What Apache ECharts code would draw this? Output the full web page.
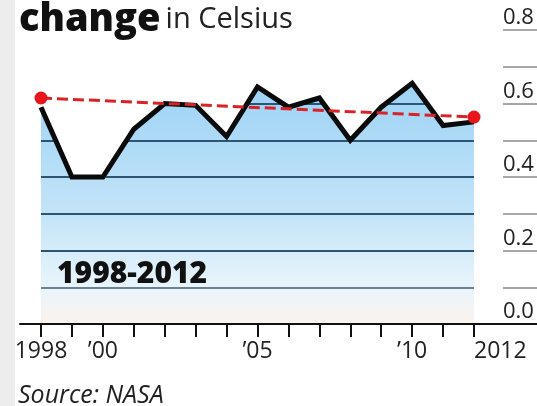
<!DOCTYPE html>
<html>
<head>
<meta charset="utf-8">
<script src="https://cdn.jsdelivr.net/npm/echarts@6/dist/echarts.min.js"></script>
<style>
  html, body { margin: 0; padding: 0; background: #fff; }
  #chart { width: 537px; height: 406px; background: linear-gradient(to right, #ededed 0, #ededed 15px, #fff 15px); }
</style>
</head>
<body>
<div id="chart"></div>
<script>
const years = ['1998','1999','2000','2001','2002','2003','2004','2005','2006','2007','2008','2009','2010','2011','2012'];
const anomaly = [0.59, 0.40, 0.40, 0.53, 0.60, 0.595, 0.51, 0.645, 0.59, 0.615, 0.50, 0.59, 0.655, 0.54, 0.55];
const trend = [0.615, null, null, null, null, null, null, null, null, null, null, null, null, null, 0.563];
const xTickLabels = ['1998', '', '\u201900', '', '', '', '', '\u201905', '', '', '', '', '\u201910', '', '2012'];
const yMax = 0.8;

const chart = echarts.init(document.getElementById('chart'));

const FONT = '"Open Sans", "Noto Sans", sans-serif';
const NAVY = '#2c5573';

chart.setOption({
  animation: false,
  title: [
    {
      text: '{a|change} {b|in Celsius}',
      left: 14,
      top: -4,
      textStyle: {
        rich: {
          a: { fontFamily: FONT, fontWeight: 800, fontSize: 38, color: '#111' },
          b: { fontFamily: FONT, fontWeight: 400, fontSize: 29, color: '#222' }
        }
      }
    },
    {
      text: '1998-2012',
      left: 52,
      top: 254,
      textStyle: { fontFamily: FONT, fontWeight: 800, fontSize: 30, color: '#111' }
    },
    {
      text: 'Source: NASA',
      left: 13,
      top: 378,
      textStyle: { fontFamily: FONT, fontStyle: 'italic', fontWeight: 400, fontSize: 25, color: '#222' }
    }
  ],
  grid: [
    { left: 41, right: 63, top: 30, bottom: 82 },
    { left: 503, right: 0, top: 30, bottom: 82 },
    { left: 20, right: 0, top: 30, bottom: 82 }
  ],
  xAxis: [
    {
      gridIndex: 0,
      type: 'category',
      data: years,
      boundaryGap: false,
      z: 3,
      axisLine: { show: false },
      axisTick: { show: true, length: 13, lineStyle: { color: '#111', width: 2 } },
      axisLabel: {
        interval: 0,
        margin: 16,
        fontFamily: FONT,
        fontSize: 23,
        color: '#222',
        alignMaxLabel: 'left',
        formatter: (v, i) => xTickLabels[i]
      },
      splitLine: { show: false }
    },
    {
      gridIndex: 1, type: 'value', show: false
    },
    {
      gridIndex: 2,
      type: 'value',
      z: 3,
      axisLine: { show: true, lineStyle: { color: '#111', width: 2 } },
      axisTick: { show: false },
      axisLabel: { show: false },
      splitLine: { show: false }
    }
  ],
  yAxis: [
    {
      gridIndex: 0,
      type: 'value',
      min: 0, max: yMax, interval: 0.1,
      z: 3,
      axisLine: { show: false },
      axisTick: { show: false },
      axisLabel: { show: false },
      splitLine: {
        show: true,
        lineStyle: { color: [NAVY, '#6b8294', NAVY, NAVY, NAVY, NAVY, NAVY, NAVY, 'rgba(0,0,0,0)'], width: 2 }
      }
    },
    {
      gridIndex: 1,
      type: 'value',
      min: 0, max: yMax, interval: 0.1,
      axisLine: { show: false },
      axisTick: { show: false },
      axisLabel: {
        inside: true,
        margin: 0,
        align: 'left',
        verticalAlign: 'bottom',
        padding: [0, 0, 1, 0],
        fontFamily: FONT,
        fontSize: 22,
        color: '#222',
        formatter: v => (Math.round(v * 10) % 2 === 0 ? v.toFixed(1) : '')
      },
      splitLine: { show: true, lineStyle: { color: '#8a8a8a', width: 1.5 } }
    },
    {
      gridIndex: 2, type: 'value', min: 0, max: yMax, show: false
    }
  ],
  series: [
    {
      name: 'fill',
      type: 'line',
      stack: 'mask',
      data: anomaly,
      symbol: 'none',
      lineStyle: { width: 0 },
      areaStyle: {
        opacity: 1,
        color: new echarts.graphic.LinearGradient(0, 0, 0, 1, [
          { offset: 0, color: '#9dd3f5' },
          { offset: 0.55, color: '#c4e4f8' },
          { offset: 0.85, color: '#e9f5fc' },
          { offset: 1, color: '#fbf3ec' }
        ])
      },
      z: 1
    },
    {
      name: 'mask',
      type: 'line',
      stack: 'mask',
      data: anomaly.map(v => +(yMax - v).toFixed(3)),
      symbol: 'none',
      lineStyle: { width: 0 },
      areaStyle: { color: '#ffffff', opacity: 1 },
      z: 4
    },
    {
      name: 'anomaly',
      type: 'line',
      data: anomaly,
      symbol: 'none',
      lineStyle: { color: '#0a0a0a', width: 5, join: 'miter' },
      z: 5
    },
    {
      name: 'trend',
      type: 'line',
      data: trend,
      connectNulls: true,
      symbol: 'circle',
      symbolSize: 13,
      itemStyle: { color: '#e8161c' },
      lineStyle: { color: '#da2229', width: 3, type: [11, 5] },
      z: 6
    }
  ]
});
</script>
</body>
</html>
